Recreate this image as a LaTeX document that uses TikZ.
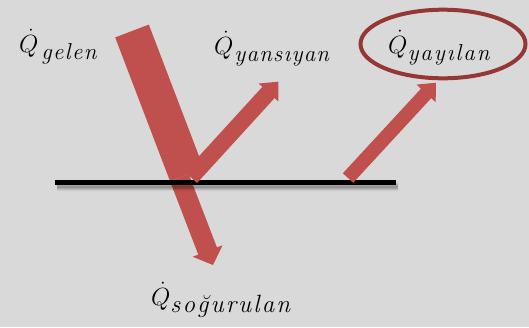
\documentclass[tikz,border=0pt]{standalone}
\usepackage{fontspec}
\usetikzlibrary{calc,shapes.geometric}
\definecolor{bg}{HTML}{D9D9D9}
\definecolor{arrowred}{HTML}{C0504D}
\definecolor{ellred}{HTML}{953735}
\newdimen\lspk
\def\lsp#1{\ifx#1\relax\else#1\kern\lspk\expandafter\lsp\fi}
\newcommand\lblsub[3]{\lspk=#2\raisebox{-7pt}{\fontsize{#1}{#1}\selectfont\itshape\lsp#3\relax}}
\newcommand\fatarrow[6][]{%
  \coordinate (fb) at ($(#3)!#6!(#2)$);
  \fill[#1] ($(#2)!#4!90:(#3)$) -- ($(fb)!#4!90:(#3)$) -- ($(fb)!#5!90:(#3)$) -- (#3)
    -- ($(fb)!#5!-90:(#3)$) -- ($(fb)!#4!-90:(#3)$) -- ($(#2)!#4!-90:(#3)$) -- cycle;}
\tikzset{
  lbl/.style={inner sep=0pt, anchor=base west, font=\fontsize{24}{27}\selectfont},
  barstyle/.style={line width=36pt, arrowred},
  surface/.style={line width=5pt, black},
}
\begin{document}
\begin{tikzpicture}[x=1pt,y=-1pt]
\fill[bg] (0,0) rectangle (529,327);
\useasboundingbox (0,0) rectangle (529,327);
% coordinates
\coordinate (inA) at (132,31);
\coordinate (inB) at (186.8,174.6);
\coordinate (abS) at (179.3,177.4);
\coordinate (abT) at (213,265);
\coordinate (reS) at (190.9,177.4);
\coordinate (reT) at (278.3,81.7);
\coordinate (emS) at (348,178);
\coordinate (emT) at (436,82.7);
\coordinate (lineL) at (55,182.5);
\coordinate (lineR) at (396,182.5);
% incoming bar and absorbed arrow
\draw[barstyle] (inA) -- (inB);
\fatarrow[arrowred]{abS}{abT}{10pt}{16pt}{15pt}
% surface with shadow
\foreach \dy/\op in {2.5/0.10,3.5/0.10,4.5/0.08,5.5/0.06}{
  \draw[line width=5pt, black, opacity=\op] ($(lineL)+(1.5,\dy)$) -- ($(lineR)+(1.5,\dy)$);
}
\draw[surface] (lineL) -- (lineR);
% reflected and emitted arrows
\fatarrow[arrowred]{reS}{reT}{8.3pt}{13.3pt}{14.6pt}
\fatarrow[arrowred]{emS}{emT}{7pt}{13pt}{14.6pt}
% ellipse
\node[draw=ellred, line width=4pt, ellipse, minimum width=165pt, minimum height=68.6pt, inner sep=0pt] (ell) at (443,44) {};
% labels
\node[lbl] (gelen) at (19,52) {$\dot{Q}$\kern3pt\lblsub{23}{1.4pt}{gelen}};
\node[lbl] (yans) at (214,54) {$\dot{Q}$\kern1pt\lblsub{23}{1.2pt}{yansıyan}};
\node[lbl] (yay) at (388,53) {$\dot{Q}$\kern0pt\lblsub{23}{2pt}{yayılan}};
\node[lbl] (sog) at (151,305) {$\dot{Q}$\kern0pt\lblsub{25}{2.1pt}{soğurulan}};
\end{tikzpicture}
\end{document}
